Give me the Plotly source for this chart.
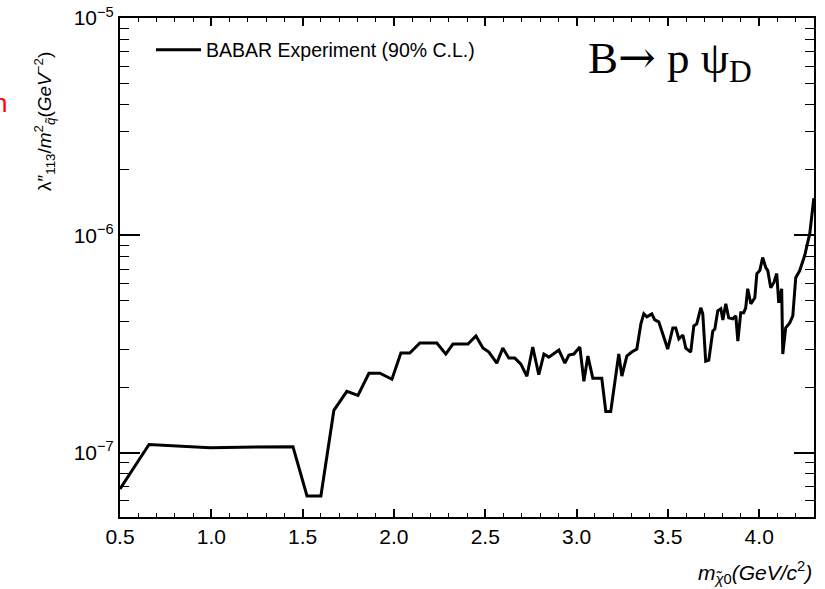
import plotly.graph_objects as go

# Data
mass = [0.500, 0.659, 0.993, 1.447, 1.524, 1.600, 1.671, 1.742, 1.803, 1.863,
        1.923, 1.989, 2.038, 2.087, 2.142, 2.235, 2.284, 2.323, 2.405, 2.449,
        2.487, 2.520, 2.563, 2.596, 2.629, 2.662, 2.695, 2.728, 2.760, 2.793,
        2.821, 2.848, 2.903, 2.936, 2.958, 2.985, 3.018, 3.040, 3.062, 3.089,
        3.138, 3.160, 3.187, 3.231, 3.248, 3.275, 3.302, 3.330, 3.352, 3.368,
        3.385, 3.412, 3.428, 3.450, 3.472, 3.499, 3.527, 3.543, 3.560, 3.582,
        3.598, 3.625, 3.642, 3.658, 3.680, 3.691, 3.707, 3.724, 3.746, 3.757,
        3.773, 3.790, 3.801, 3.817, 3.833, 3.855, 3.872, 3.883, 3.899, 3.915,
        3.926, 3.937, 3.954, 3.976, 3.987, 4.003, 4.019, 4.036, 4.047, 4.063,
        4.080, 4.096, 4.107, 4.123, 4.129, 4.145, 4.167, 4.184, 4.200, 4.222,
        4.249, 4.277, 4.299]

limit = [6.81e-8, 1.09e-7, 1.055e-7, 1.066e-7, 6.32e-8, 6.32e-8, 1.565e-7, 1.916e-7, 1.836e-7, 2.321e-7,
         2.321e-7, 2.178e-7, 2.873e-7, 2.873e-7, 3.196e-7, 3.196e-7, 2.843e-7, 3.162e-7, 3.162e-7, 3.444e-7,
         3.03e-7, 2.904e-7, 2.582e-7, 3.03e-7, 2.724e-7, 2.724e-7, 2.556e-7, 2.248e-7, 3.063e-7, 2.284e-7,
         2.843e-7, 2.753e-7, 2.967e-7, 2.582e-7, 2.813e-7, 2.843e-7, 3.063e-7, 2.132e-7, 2.783e-7, 2.201e-7,
         2.201e-7, 1.548e-7, 1.548e-7, 2.843e-7, 2.25e-7, 2.783e-7, 2.904e-7, 2.999e-7, 3.914e-7, 4.354e-7,
         4.217e-7, 4.354e-7, 4.085e-7, 3.999e-7, 3.518e-7, 2.999e-7, 3.751e-7, 3.751e-7, 3.336e-7, 3.48e-7,
         3.03e-7, 2.904e-7, 3.831e-7, 3.914e-7, 4.642e-7, 4.354e-7, 2.638e-7, 2.667e-7, 3.633e-7, 3.71e-7,
         4.496e-7, 4.592e-7, 4.085e-7, 4.844e-7, 4.173e-7, 4.128e-7, 4.263e-7, 3.265e-7, 4.401e-7, 4.401e-7,
         4.642e-7, 5.684e-7, 4.844e-7, 5.164e-7, 6.672e-7, 6.887e-7, 7.909e-7, 7.11e-7, 6.887e-7, 5.745e-7,
         6.059e-7, 6.672e-7, 4.896e-7, 5.684e-7, 2.843e-7, 3.751e-7, 3.956e-7, 4.263e-7, 6.391e-7, 6.887e-7,
         8.081e-7, 1.021e-6, 1.484e-6]

series_name = "BABAR Experiment (90% C.L.)"
x_tickvals = [0.5, 1.0, 1.5, 2.0, 2.5, 3.0, 3.5, 4.0]
y_tickvals = [1e-7, 1e-6, 1e-5]
y_ticktext = ["10<sup>−7</sup>", "10<sup>−6</sup>", "10<sup>−5</sup>"]
x_range = [0.5, 4.3]
y_log_range = [-7.296, -4.9995]

SANS = "Liberation Sans, Arial, sans-serif"
SERIF = "Liberation Serif, Times New Roman, serif"

fig = go.Figure()
fig.add_trace(go.Scatter(
    x=mass, y=limit, mode="lines", name=series_name,
    line=dict(color="black", width=3),
))

fig.update_layout(
    width=825, height=589,
    margin=dict(l=120, r=11, t=18, b=72, autoexpand=False),
    paper_bgcolor="white", plot_bgcolor="white",
    font=dict(family=SANS, color="black", size=21),
    showlegend=True,
    legend=dict(x=0.0447, y=0.975, xanchor="left", yanchor="top",
                bgcolor="rgba(0,0,0,0)", font=dict(family=SANS, size=19.5),
                itemwidth=45),
)

fig.update_xaxes(
    range=x_range, tickvals=x_tickvals, tickformat=".1f",
    showgrid=False, zeroline=False, automargin=False,
    showline=True, linecolor="black", linewidth=2, mirror="ticks",
    ticks="inside", ticklen=8, tickwidth=1.5, tickcolor="black",
    minor=dict(dtick=0.1, ticks="inside", ticklen=4, tickwidth=1.2, tickcolor="black", showgrid=False),
    tickfont=dict(size=21), ticklabeloverflow="allow",
)
fig.update_yaxes(
    type="log", range=y_log_range, tickvals=y_tickvals, ticktext=y_ticktext,
    showgrid=False, zeroline=False, automargin=False,
    showline=True, linecolor="black", linewidth=2, mirror="ticks",
    ticks="inside", ticklen=20, tickwidth=1.5, tickcolor="black",
    minor=dict(dtick="D1", ticks="inside", ticklen=9, tickwidth=1.2, tickcolor="black", showgrid=False),
    tickfont=dict(size=21), ticklabeloverflow="allow",
)

annotations = [
    dict(text="<i>m</i><sub><i>χ̃</i>0</sub><i>(GeV/c</i><sup>2</sup><i>)</i>",
         xref="paper", yref="paper", x=1.0, y=-0.112, xanchor="right", yanchor="middle",
         showarrow=False, font=dict(family=SANS, size=21)),
    dict(text="λ″<sub>113</sub>/<i>m</i><sup>2</sup><sub><i>q̃</i></sub>(<i>GeV</i><sup>−2</sup>)",
         xref="paper", yref="paper", x=-0.108, y=0.935, xanchor="center", yanchor="top",
         textangle=-90, showarrow=False, font=dict(family=SANS, size=19)),
    dict(text="B<span style='font-family:DejaVu Serif'>→</span> p ψ<sub>D</sub>",
         xref="paper", yref="paper", x=0.672, y=0.915, xanchor="left", yanchor="middle",
         showarrow=False, font=dict(family=SERIF, size=45)),
    dict(text="n",
         xref="paper", yref="paper", x=-0.173, y=0.83, xanchor="center", yanchor="middle",
         showarrow=False, font=dict(family=SANS, size=26, color="red")),
]
fig.update_layout(annotations=annotations)

fig.write_html("out.html")
